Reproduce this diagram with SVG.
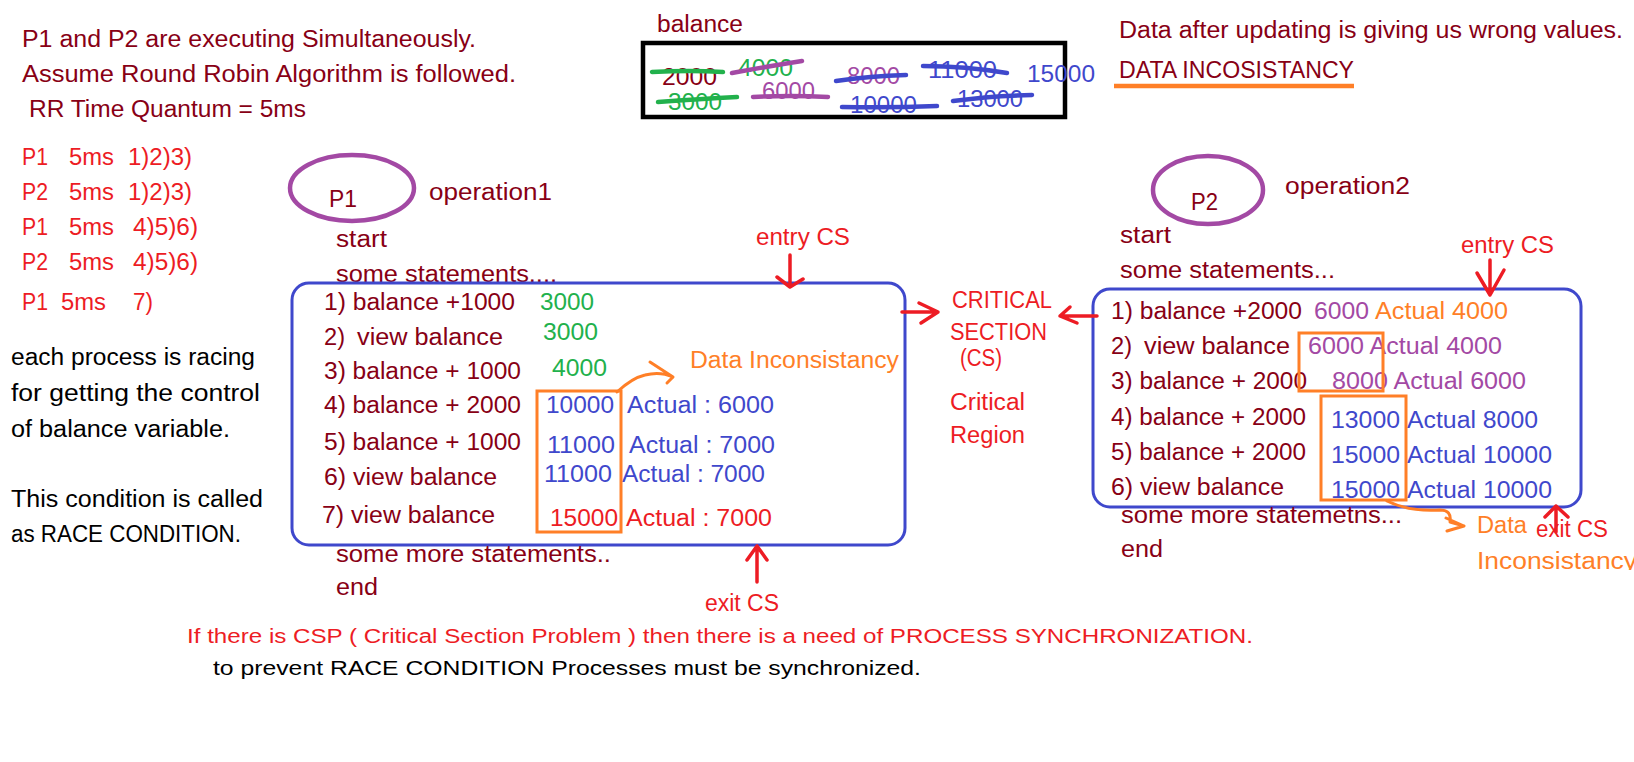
<svg xmlns="http://www.w3.org/2000/svg" width="1634" height="762" viewBox="0 0 1634 762">
<defs>
<style>
text{font-family:"Liberation Sans",Arial,sans-serif;font-size:23px}
.dr{fill:#880015}.rd{fill:#ED1C24}.gr{fill:#22B14C}.pu{fill:#A349A4}.bl{fill:#3F48CC}.or{fill:#FF7F27}.bk{fill:#000}
.sm{font-size:19.5px}
.box{fill:none;stroke:#3F48CC;stroke-width:3}
.obox{fill:none;stroke:#FF7F27;stroke-width:3}
.ell{fill:none;stroke:#A349A4;stroke-width:4.5}
.ra{fill:none;stroke:#ED1C24;stroke-width:3.5;stroke-linecap:round;stroke-linejoin:round}
.oa{fill:none;stroke:#FF7F27;stroke-width:3;stroke-linecap:round;stroke-linejoin:round}
.sg{fill:none;stroke:#22B14C;stroke-width:4.5;stroke-linecap:round}
.sp{fill:none;stroke:#A349A4;stroke-width:4.5;stroke-linecap:round}
.sb{fill:none;stroke:#3F48CC;stroke-width:4.5;stroke-linecap:round}
</style>
<clipPath id="clipInc"><rect x="1460" y="540" width="174" height="30"/></clipPath>
</defs>
<rect width="1634" height="762" fill="#fff"/>

<g id="intro">
<text class="dr" x="22" y="47" textLength="454" lengthAdjust="spacingAndGlyphs">P1 and P2 are executing Simultaneously.</text>
<text class="dr" x="22" y="82" textLength="494" lengthAdjust="spacingAndGlyphs">Assume Round Robin Algorithm is followed.</text>
<text class="dr" x="29" y="117" textLength="277" lengthAdjust="spacingAndGlyphs">RR Time Quantum = 5ms</text>
</g>

<g id="schedule">
<text class="rd" x="22" y="165" textLength="26" lengthAdjust="spacingAndGlyphs">P1</text>
<text class="rd" x="69" y="165" textLength="45" lengthAdjust="spacingAndGlyphs">5ms</text>
<text class="rd" x="128" y="165" textLength="64" lengthAdjust="spacingAndGlyphs">1)2)3)</text>
<text class="rd" x="22" y="200" textLength="26" lengthAdjust="spacingAndGlyphs">P2</text>
<text class="rd" x="69" y="200" textLength="45" lengthAdjust="spacingAndGlyphs">5ms</text>
<text class="rd" x="128" y="200" textLength="64" lengthAdjust="spacingAndGlyphs">1)2)3)</text>
<text class="rd" x="22" y="235" textLength="26" lengthAdjust="spacingAndGlyphs">P1</text>
<text class="rd" x="69" y="235" textLength="45" lengthAdjust="spacingAndGlyphs">5ms</text>
<text class="rd" x="133" y="235" textLength="65" lengthAdjust="spacingAndGlyphs">4)5)6)</text>
<text class="rd" x="22" y="270" textLength="26" lengthAdjust="spacingAndGlyphs">P2</text>
<text class="rd" x="69" y="270" textLength="45" lengthAdjust="spacingAndGlyphs">5ms</text>
<text class="rd" x="133" y="270" textLength="65" lengthAdjust="spacingAndGlyphs">4)5)6)</text>
<text class="rd" x="22" y="310" textLength="26" lengthAdjust="spacingAndGlyphs">P1</text>
<text class="rd" x="61" y="310" textLength="45" lengthAdjust="spacingAndGlyphs">5ms</text>
<text class="rd" x="133" y="310" textLength="20" lengthAdjust="spacingAndGlyphs">7)</text>
</g>

<g id="race-note">
<text class="bk" x="11" y="365" textLength="244" lengthAdjust="spacingAndGlyphs">each process is racing</text>
<text class="bk" x="11" y="401" textLength="249" lengthAdjust="spacingAndGlyphs">for getting the control</text>
<text class="bk" x="11" y="437" textLength="219" lengthAdjust="spacingAndGlyphs">of balance variable.</text>
<text class="bk" x="11" y="507" textLength="252" lengthAdjust="spacingAndGlyphs">This condition is called</text>
<text class="bk" x="11" y="542" textLength="230" lengthAdjust="spacingAndGlyphs">as RACE CONDITION.</text>
</g>

<g id="balance-variable">
<text class="dr" x="657" y="32" textLength="86" lengthAdjust="spacingAndGlyphs">balance</text>
<rect x="643" y="43" width="422" height="74" fill="none" stroke="#000" stroke-width="4.5"/>
<text class="dr" x="662" y="85" textLength="55" lengthAdjust="spacingAndGlyphs">2000</text>
<text class="gr" x="738" y="76" textLength="55" lengthAdjust="spacingAndGlyphs">4000</text>
<text class="gr" x="668" y="110" textLength="54" lengthAdjust="spacingAndGlyphs">3000</text>
<text class="pu" x="762" y="99" textLength="53" lengthAdjust="spacingAndGlyphs">6000</text>
<text class="pu" x="847" y="84" textLength="53" lengthAdjust="spacingAndGlyphs">8000</text>
<text class="bl" x="850" y="113" textLength="67" lengthAdjust="spacingAndGlyphs">10000</text>
<text class="bl" x="928" y="78" textLength="69" lengthAdjust="spacingAndGlyphs">11000</text>
<text class="bl" x="957" y="107" textLength="66" lengthAdjust="spacingAndGlyphs">13000</text>
<text class="bl" x="1027" y="82" textLength="68" lengthAdjust="spacingAndGlyphs">15000</text>
<path class="sg" d="M652,72 Q690,70 723,72"/>
<path class="sp" d="M732,73 Q770,66 802,61"/>
<path class="sg" d="M658,102 Q700,99 737,97"/>
<path class="sp" d="M753,97 Q790,95 828,97"/>
<path class="sb" d="M836,81 Q870,76 906,75"/>
<path class="sb" d="M842,107 Q890,108 937,106"/>
<path class="sb" d="M923,66 Q965,66 1007,73"/>
<path class="sb" d="M953,101 Q990,96 1032,95"/>
</g>

<g id="data-inconsistency-note">
<text class="dr" x="1119" y="38" textLength="504" lengthAdjust="spacingAndGlyphs">Data after updating is giving us wrong values.</text>
<text class="dr" x="1119" y="78" textLength="235" lengthAdjust="spacingAndGlyphs">DATA INCOSISTANCY</text>
<line x1="1114" y1="86" x2="1354" y2="86" stroke="#FF7F27" stroke-width="4.5"/>
</g>

<g id="p1">
<ellipse class="ell" cx="352" cy="188" rx="62" ry="33"/>
<text class="dr" x="329" y="207" textLength="28" lengthAdjust="spacingAndGlyphs">P1</text>
<text class="dr" x="429" y="200" textLength="123" lengthAdjust="spacingAndGlyphs">operation1</text>
<text class="dr" x="336" y="247" textLength="51" lengthAdjust="spacingAndGlyphs">start</text>
<text class="dr" x="336" y="282" textLength="221" lengthAdjust="spacingAndGlyphs">some statements....</text>
<rect class="box" x="292" y="283" width="613" height="262" rx="17"/>
<text class="dr" x="324" y="310" textLength="191" lengthAdjust="spacingAndGlyphs">1) balance +1000</text>
<text class="gr" x="540" y="310" textLength="54" lengthAdjust="spacingAndGlyphs">3000</text>
<text class="dr" x="324" y="345" textLength="21" lengthAdjust="spacingAndGlyphs">2)</text>
<text class="dr" x="357" y="345" textLength="146" lengthAdjust="spacingAndGlyphs">view balance</text>
<text class="gr" x="543" y="340" textLength="55" lengthAdjust="spacingAndGlyphs">3000</text>
<text class="dr" x="324" y="379" textLength="197" lengthAdjust="spacingAndGlyphs">3) balance + 1000</text>
<text class="gr" x="552" y="376" textLength="55" lengthAdjust="spacingAndGlyphs">4000</text>
<text class="or" x="690" y="368" textLength="209" lengthAdjust="spacingAndGlyphs">Data Inconsistancy</text>
<text class="dr" x="324" y="413" textLength="197" lengthAdjust="spacingAndGlyphs">4) balance + 2000</text>
<text class="bl" x="546" y="413" textLength="68" lengthAdjust="spacingAndGlyphs">10000</text>
<text class="bl" x="627" y="413" textLength="147" lengthAdjust="spacingAndGlyphs">Actual : 6000</text>
<text class="dr" x="324" y="450" textLength="197" lengthAdjust="spacingAndGlyphs">5) balance + 1000</text>
<text class="bl" x="547" y="453" textLength="68" lengthAdjust="spacingAndGlyphs">11000</text>
<text class="bl" x="629" y="453" textLength="146" lengthAdjust="spacingAndGlyphs">Actual : 7000</text>
<text class="dr" x="324" y="485" textLength="173" lengthAdjust="spacingAndGlyphs">6) view balance</text>
<text class="bl" x="544" y="482" textLength="68" lengthAdjust="spacingAndGlyphs">11000</text>
<text class="bl" x="622" y="482" textLength="143" lengthAdjust="spacingAndGlyphs">Actual : 7000</text>
<text class="dr" x="322" y="523" textLength="173" lengthAdjust="spacingAndGlyphs">7) view balance</text>
<text class="rd" x="550" y="526" textLength="68" lengthAdjust="spacingAndGlyphs">15000</text>
<text class="rd" x="626" y="526" textLength="146" lengthAdjust="spacingAndGlyphs">Actual : 7000</text>
<rect class="obox" x="537" y="391" width="84" height="141"/>
<text class="dr" x="336" y="562" textLength="275" lengthAdjust="spacingAndGlyphs">some more statements..</text>
<text class="dr" x="336" y="595" textLength="42" lengthAdjust="spacingAndGlyphs">end</text>
<text class="rd" x="756" y="245" textLength="94" lengthAdjust="spacingAndGlyphs">entry CS</text>
<text class="rd" x="705" y="611" textLength="74" lengthAdjust="spacingAndGlyphs">exit CS</text>
</g>

<g id="critical-section">
<text class="rd" x="952" y="308" textLength="100" lengthAdjust="spacingAndGlyphs">CRITICAL</text>
<text class="rd" x="950" y="340" textLength="97" lengthAdjust="spacingAndGlyphs">SECTION</text>
<text class="rd" x="960" y="366" textLength="42" lengthAdjust="spacingAndGlyphs">(CS)</text>
<text class="rd" x="950" y="410" textLength="75" lengthAdjust="spacingAndGlyphs">Critical</text>
<text class="rd" x="950" y="443" textLength="75" lengthAdjust="spacingAndGlyphs">Region</text>
</g>

<g id="p2">
<ellipse class="ell" cx="1208" cy="190" rx="55" ry="34"/>
<text class="dr" x="1191" y="210" textLength="27" lengthAdjust="spacingAndGlyphs">P2</text>
<text class="dr" x="1285" y="194" textLength="125" lengthAdjust="spacingAndGlyphs">operation2</text>
<text class="dr" x="1120" y="243" textLength="51" lengthAdjust="spacingAndGlyphs">start</text>
<text class="dr" x="1120" y="278" textLength="215" lengthAdjust="spacingAndGlyphs">some statements...</text>
<text class="rd" x="1461" y="253" textLength="93" lengthAdjust="spacingAndGlyphs">entry CS</text>
<rect class="box" x="1093" y="289" width="488" height="218" rx="17"/>
<text class="dr" x="1111" y="319" textLength="191" lengthAdjust="spacingAndGlyphs">1) balance +2000</text>
<text class="pu" x="1314" y="319" textLength="55" lengthAdjust="spacingAndGlyphs">6000</text>
<text class="or" x="1375" y="319" textLength="133" lengthAdjust="spacingAndGlyphs">Actual 4000</text>
<text class="dr" x="1111" y="354" textLength="21" lengthAdjust="spacingAndGlyphs">2)</text>
<text class="dr" x="1144" y="354" textLength="146" lengthAdjust="spacingAndGlyphs">view balance</text>
<text class="pu" x="1308" y="354" textLength="194" lengthAdjust="spacingAndGlyphs">6000 Actual 4000</text>
<text class="dr" x="1111" y="389" textLength="196" lengthAdjust="spacingAndGlyphs">3) balance + 2000</text>
<text class="pu" x="1332" y="389" textLength="194" lengthAdjust="spacingAndGlyphs">8000 Actual 6000</text>
<rect class="obox" x="1299" y="333" width="84" height="58"/>
<text class="dr" x="1111" y="425" textLength="195" lengthAdjust="spacingAndGlyphs">4) balance + 2000</text>
<text class="bl" x="1331" y="428" textLength="69" lengthAdjust="spacingAndGlyphs">13000</text>
<text class="bl" x="1407" y="428" textLength="131" lengthAdjust="spacingAndGlyphs">Actual 8000</text>
<text class="dr" x="1111" y="460" textLength="195" lengthAdjust="spacingAndGlyphs">5) balance + 2000</text>
<text class="bl" x="1331" y="463" textLength="69" lengthAdjust="spacingAndGlyphs">15000</text>
<text class="bl" x="1407" y="463" textLength="145" lengthAdjust="spacingAndGlyphs">Actual 10000</text>
<text class="dr" x="1111" y="495" textLength="173" lengthAdjust="spacingAndGlyphs">6) view balance</text>
<text class="bl" x="1331" y="498" textLength="69" lengthAdjust="spacingAndGlyphs">15000</text>
<text class="bl" x="1407" y="498" textLength="145" lengthAdjust="spacingAndGlyphs">Actual 10000</text>
<rect class="obox" x="1321" y="396" width="85" height="104"/>
<text class="dr" x="1121" y="523" textLength="281" lengthAdjust="spacingAndGlyphs">some more statemetns...</text>
<text class="dr" x="1121" y="557" textLength="42" lengthAdjust="spacingAndGlyphs">end</text>
<text class="or" x="1477" y="533" textLength="50" lengthAdjust="spacingAndGlyphs">Data</text>
<text class="or" x="1477" y="569" textLength="160" lengthAdjust="spacingAndGlyphs" clip-path="url(#clipInc)">Inconsistancy</text>
<text class="rd" x="1536" y="537" textLength="72" lengthAdjust="spacingAndGlyphs">exit CS</text>
</g>

<g id="connectors">
<path class="ra" d="M790,255 L790,287 M777,277 L790,287 L803,279"/>
<path class="ra" d="M757,582 L757,546 M747,560 L757,546 L767,560"/>
<path class="ra" d="M902,312 L938,312 M919,303 L938,312 L921,323"/>
<path class="ra" d="M1097,316 L1060,316 M1070,307 L1060,316 L1077,323"/>
<path class="ra" d="M1490,260 L1490,295 M1477,273 L1490,295 L1504,270"/>
<path class="ra" d="M1556,532 L1556,506 M1545,517 L1556,506 L1568,517"/>
<path class="oa" d="M617,392 Q632,378 645,375 Q660,371 673,377 M650,362 L673,377 L667,383"/>
<path class="oa" d="M1387,501 Q1410,512 1440,510 Q1452,510 1450,522 L1464,526 M1446,518 L1464,526 L1447,531"/>
</g>

<g id="conclusion">
<text class="rd sm" x="187" y="643" textLength="1066" lengthAdjust="spacingAndGlyphs">If there is CSP ( Critical Section Problem ) then there is a need of PROCESS SYNCHRONIZATION.</text>
<text class="bk sm" x="213" y="675" textLength="708" lengthAdjust="spacingAndGlyphs">to prevent RACE CONDITION Processes must be synchronized.</text>
</g>
</svg>
